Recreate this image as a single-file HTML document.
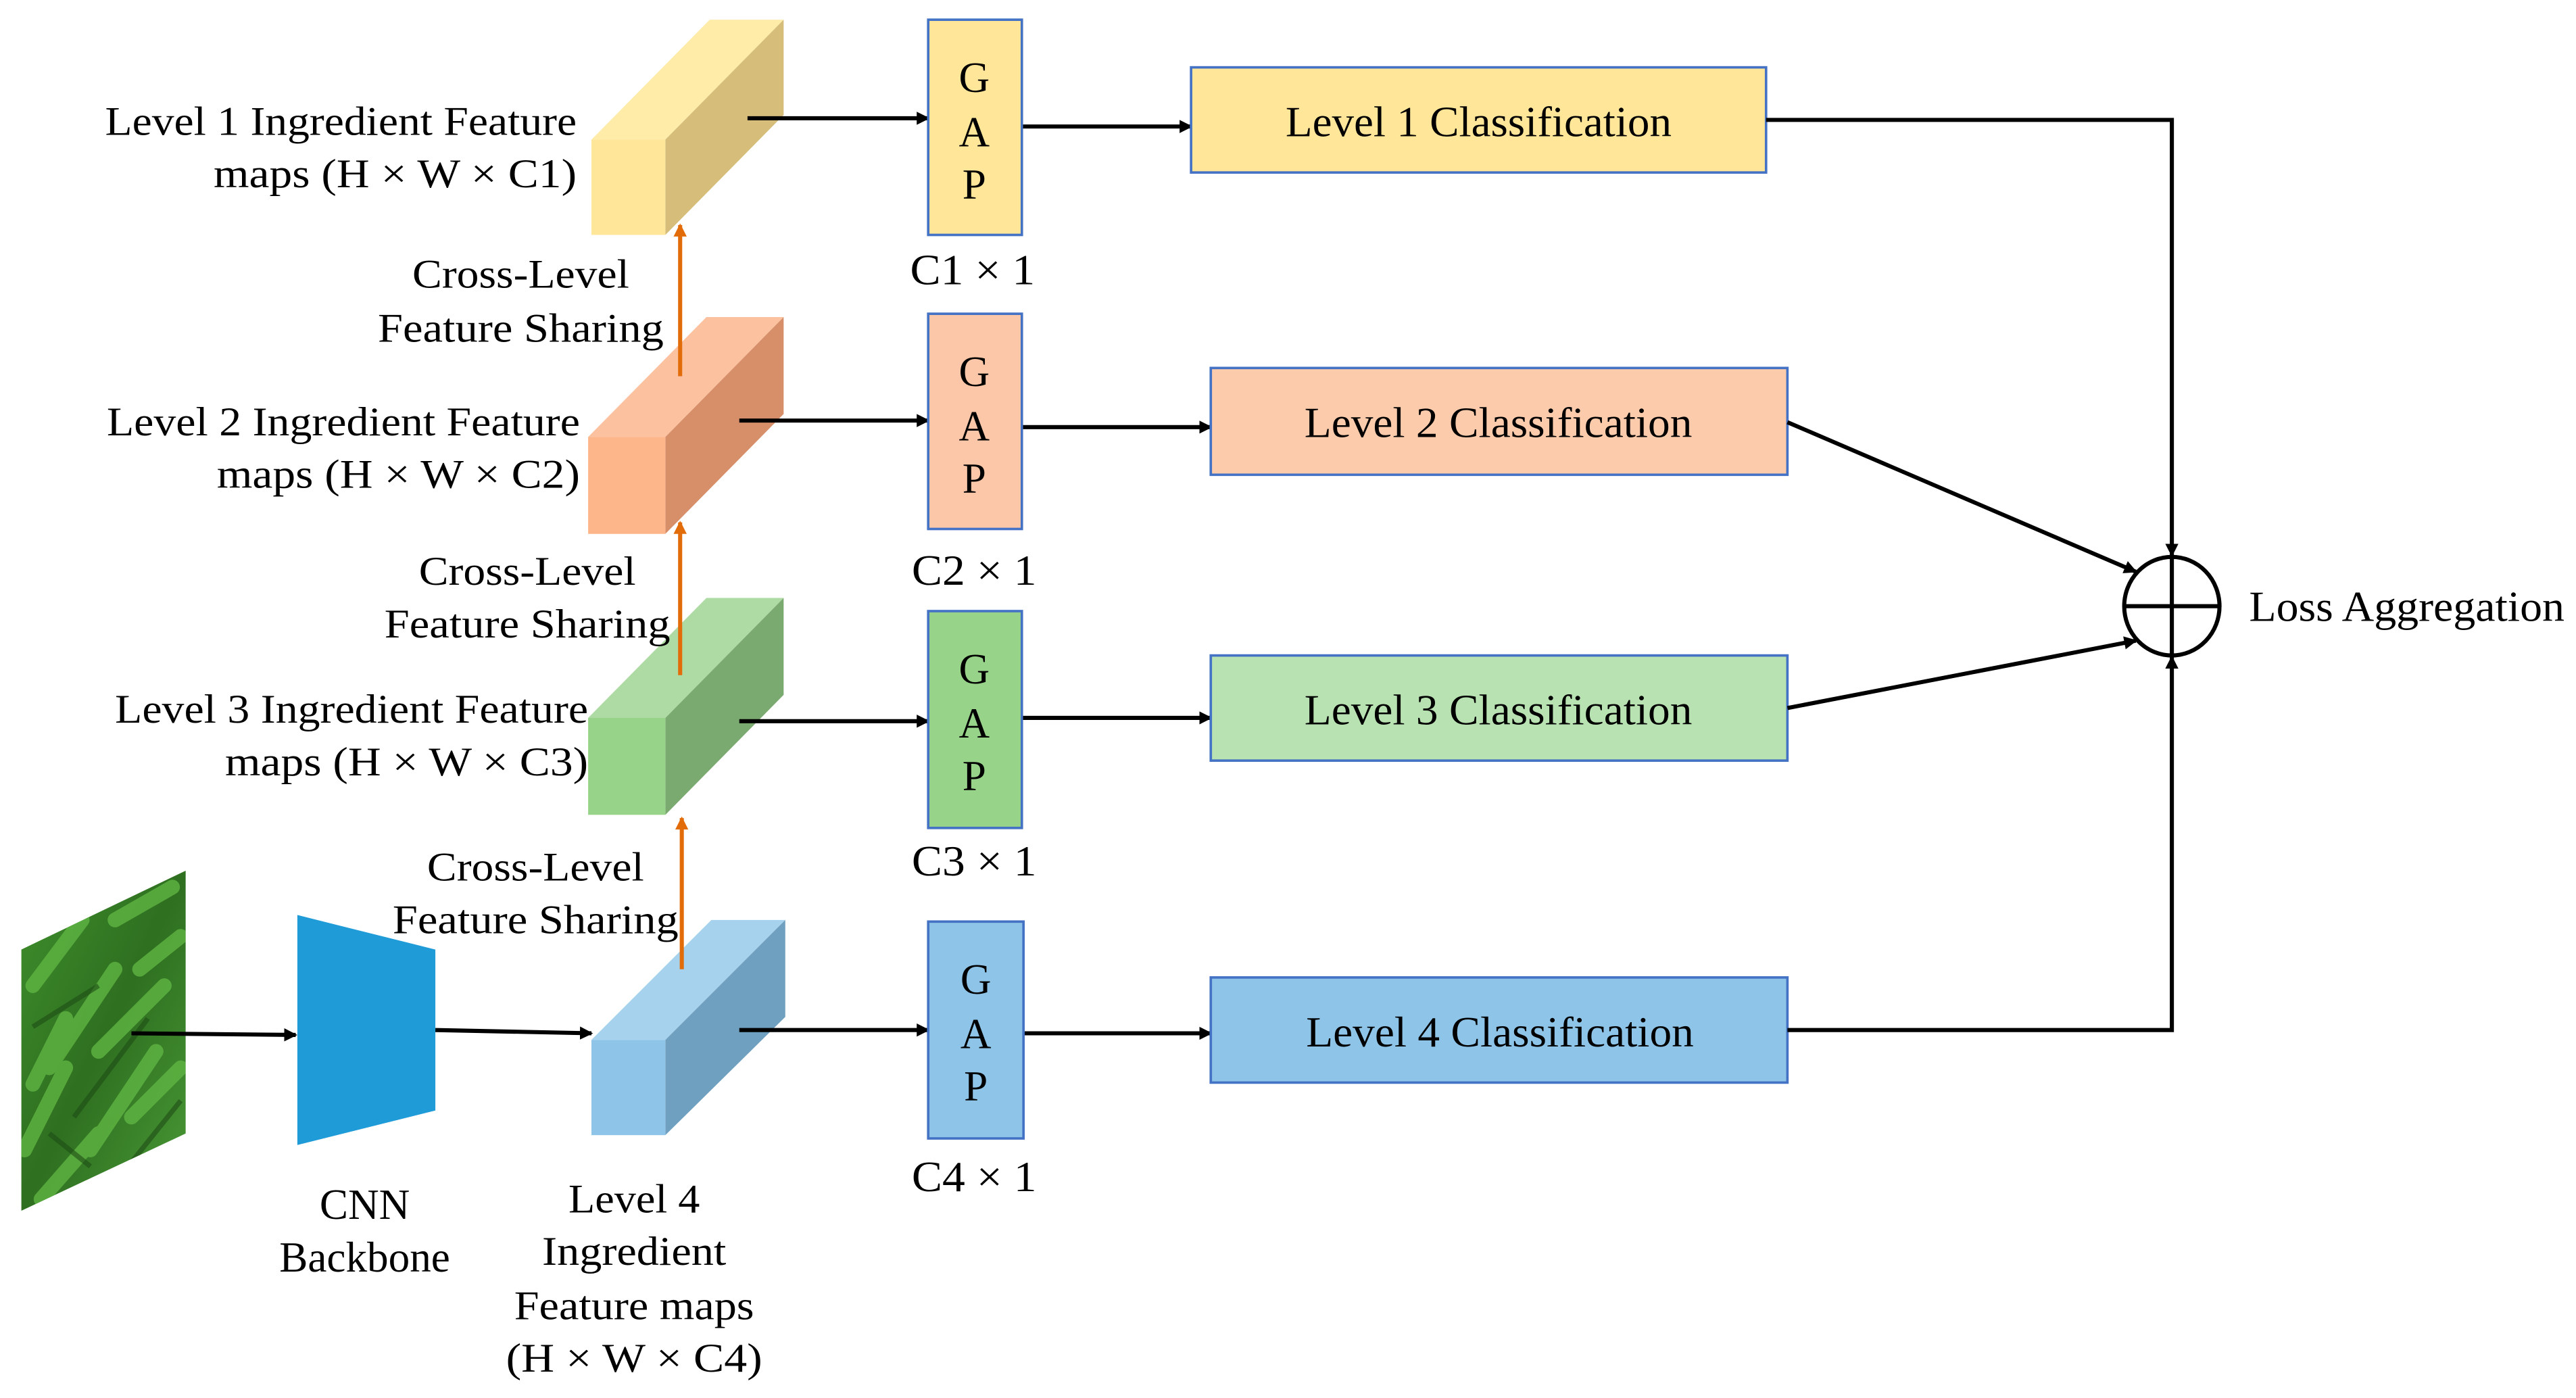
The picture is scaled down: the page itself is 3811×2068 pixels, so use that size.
<!DOCTYPE html>
<html><head><meta charset="utf-8"><style>
html,body{margin:0;padding:0;background:#fff;}
svg{display:block;}
</style></head><body>
<svg width="3811" height="2068" viewBox="0 0 1568 851" preserveAspectRatio="none" xmlns="http://www.w3.org/2000/svg" font-family="'Liberation Serif', 'DejaVu Serif', serif" style="font-family:'Liberation Serif','DejaVu Serif',serif">
<defs>
<marker id="a" markerWidth="8" markerHeight="8" refX="7" refY="4" orient="auto" markerUnits="userSpaceOnUse"><path d="M0,0 L8,4 L0,8 z" fill="#000"/></marker>
<marker id="o" markerWidth="8" markerHeight="8" refX="7" refY="4" orient="auto" markerUnits="userSpaceOnUse"><path d="M0,0 L8,4 L0,8 z" fill="#E36C0A"/></marker>
<linearGradient id="g" x1="0" y1="0" x2="1" y2="1"><stop offset="0" stop-color="#3f8f2c"/><stop offset="0.5" stop-color="#2e6f20"/><stop offset="1" stop-color="#4a9a36"/></linearGradient>
<clipPath id="cp"><polygon points="13,578 113,530 113,690 13,737"/></clipPath>
</defs>
<rect width="1568" height="851" fill="#fff"/>

<polygon points="13,578 113,530 113,690 13,737" fill="url(#g)"/>
<g clip-path="url(#cp)" stroke="#5fb543" stroke-width="9" stroke-linecap="round" fill="none" opacity="0.8">
<path d="M20,600 L50,560"/><path d="M30,650 L70,590"/><path d="M15,700 L40,650"/><path d="M55,700 L95,640"/><path d="M70,560 L105,540"/><path d="M60,640 L100,600"/><path d="M25,730 L60,690"/><path d="M80,680 L110,650"/><path d="M40,620 L20,660"/><path d="M85,590 L110,570"/>
</g>
<g clip-path="url(#cp)" stroke="#1e4d16" stroke-width="3" fill="none" opacity="0.6">
<path d="M20,625 L60,600"/><path d="M45,680 L90,620"/><path d="M70,720 L110,670"/><path d="M30,690 L55,710"/>
</g>

<polygon points="181,557 265,578 265,676 181,697" fill="#1F9BD7"/>
<text x="222" y="742" font-size="26" text-anchor="middle">CNN</text>
<text x="222" y="774" font-size="26" text-anchor="middle">Backbone</text>

<line x1="80" y1="629" x2="180" y2="630" stroke="#000" stroke-width="2.5" marker-end="url(#a)"/>
<line x1="265" y1="627" x2="360" y2="629" stroke="#000" stroke-width="2.5" marker-end="url(#a)"/>

<g>
<polygon points="360,85 405,85 477,12 432,12" fill="#FEECA8"/>
<polygon points="405,85 477,12 477,70 405,143" fill="#D6BD7A"/>
<rect x="360" y="85" width="45" height="58" fill="#FFE699"/>
</g>
<g>
<polygon points="358,266 405,266 477,193 430,193" fill="#FCC19F"/>
<polygon points="405,266 477,193 477,252 405,325" fill="#D78F6A"/>
<rect x="358" y="266" width="47" height="59" fill="#FDB68A"/>
</g>
<g>
<polygon points="358,437 405,437 477,364 430,364" fill="#AEDBA4"/>
<polygon points="405,437 477,364 477,423 405,496" fill="#7BAA70"/>
<rect x="358" y="437" width="47" height="59" fill="#98D38A"/>
</g>
<g>
<polygon points="360,633 405,633 478,560 433,560" fill="#A7D2EE"/>
<polygon points="405,633 478,560 478,619 405,691" fill="#70A0BF"/>
<rect x="360" y="633" width="45" height="58" fill="#8EC4E8"/>
</g>

<line x1="414" y1="229" x2="414" y2="137" stroke="#E36C0A" stroke-width="2.5" marker-end="url(#o)"/>
<line x1="414" y1="411" x2="414" y2="318" stroke="#E36C0A" stroke-width="2.5" marker-end="url(#o)"/>
<line x1="415" y1="590" x2="415" y2="498" stroke="#E36C0A" stroke-width="2.5" marker-end="url(#o)"/>

<g font-size="25" text-anchor="end">
<text x="351" y="82" textLength="287" lengthAdjust="spacingAndGlyphs">Level 1 Ingredient Feature</text>
<text x="351" y="114" textLength="221" lengthAdjust="spacingAndGlyphs">maps (H × W × C1)</text>
<text x="353" y="265" textLength="288" lengthAdjust="spacingAndGlyphs">Level 2 Ingredient Feature</text>
<text x="353" y="297" textLength="221" lengthAdjust="spacingAndGlyphs">maps (H × W × C2)</text>
<text x="358" y="440" textLength="288" lengthAdjust="spacingAndGlyphs">Level 3 Ingredient Feature</text>
<text x="358" y="472" textLength="221" lengthAdjust="spacingAndGlyphs">maps (H × W × C3)</text>
</g>
<g font-size="25" text-anchor="middle">
<text x="317" y="175" textLength="132" lengthAdjust="spacingAndGlyphs">Cross-Level</text>
<text x="317" y="208" textLength="174" lengthAdjust="spacingAndGlyphs">Feature Sharing</text>
<text x="321" y="356" textLength="132" lengthAdjust="spacingAndGlyphs">Cross-Level</text>
<text x="321" y="388" textLength="174" lengthAdjust="spacingAndGlyphs">Feature Sharing</text>
<text x="326" y="536" textLength="132" lengthAdjust="spacingAndGlyphs">Cross-Level</text>
<text x="326" y="568" textLength="174" lengthAdjust="spacingAndGlyphs">Feature Sharing</text>
<text x="386" y="738" textLength="80" lengthAdjust="spacingAndGlyphs">Level 4</text>
<text x="386" y="770" textLength="112" lengthAdjust="spacingAndGlyphs">Ingredient</text>
<text x="386" y="803" textLength="146" lengthAdjust="spacingAndGlyphs">Feature maps</text>
<text x="386" y="835" textLength="156" lengthAdjust="spacingAndGlyphs">(H × W × C4)</text>
</g>

<g stroke="#000" stroke-width="2.5">
<line x1="455" y1="72" x2="565" y2="72" marker-end="url(#a)"/>
<line x1="450" y1="256" x2="565" y2="256" marker-end="url(#a)"/>
<line x1="450" y1="439" x2="565" y2="439" marker-end="url(#a)"/>
<line x1="450" y1="627" x2="565" y2="627" marker-end="url(#a)"/>
<line x1="622" y1="77" x2="725" y2="77" marker-end="url(#a)"/>
<line x1="622" y1="260" x2="737" y2="260" marker-end="url(#a)"/>
<line x1="622" y1="437" x2="737" y2="437" marker-end="url(#a)"/>
<line x1="622" y1="629" x2="737" y2="629" marker-end="url(#a)"/>
</g>

<g stroke="#4472C4" stroke-width="1.5">
<rect x="565" y="12" width="57" height="131" fill="#FFE699"/>
<rect x="565" y="191" width="57" height="131" fill="#FBC7A8"/>
<rect x="565" y="372" width="57" height="132" fill="#98D38A"/>
<rect x="565" y="561" width="58" height="132" fill="#8EC4E8"/>
</g>
<g font-size="26" text-anchor="middle">
<text x="593" y="56">G</text><text x="593" y="89">A</text><text x="593" y="121">P</text>
<text x="593" y="235">G</text><text x="593" y="268">A</text><text x="593" y="300">P</text>
<text x="593" y="416">G</text><text x="593" y="449">A</text><text x="593" y="481">P</text>
<text x="594" y="605">G</text><text x="594" y="638">A</text><text x="594" y="670">P</text>
<text x="592" y="173" textLength="76" lengthAdjust="spacingAndGlyphs">C1 × 1</text>
<text x="593" y="356" textLength="76" lengthAdjust="spacingAndGlyphs">C2 × 1</text>
<text x="593" y="533" textLength="76" lengthAdjust="spacingAndGlyphs">C3 × 1</text>
<text x="593" y="725" textLength="76" lengthAdjust="spacingAndGlyphs">C4 × 1</text>
</g>

<g stroke="#4472C4" stroke-width="1.5">
<rect x="725" y="41" width="350" height="64" fill="#FFE699"/>
<rect x="737" y="224" width="351" height="65" fill="#FBCBAB"/>
<rect x="737" y="399" width="351" height="64" fill="#B9E2B2"/>
<rect x="737" y="595" width="351" height="64" fill="#8EC4E8"/>
</g>
<g font-size="26" text-anchor="middle">
<text x="900" y="83" textLength="235" lengthAdjust="spacingAndGlyphs">Level 1 Classification</text>
<text x="912" y="266" textLength="236" lengthAdjust="spacingAndGlyphs">Level 2 Classification</text>
<text x="912" y="441" textLength="236" lengthAdjust="spacingAndGlyphs">Level 3 Classification</text>
<text x="913" y="637" textLength="236" lengthAdjust="spacingAndGlyphs">Level 4 Classification</text>
</g>

<g stroke="#000" stroke-width="2.5" fill="none">
<polyline points="1075,73 1322,73 1322,338" marker-end="url(#a)"/>
<line x1="1088" y1="257" x2="1300" y2="348" marker-end="url(#a)"/>
<line x1="1088" y1="431" x2="1300" y2="390" marker-end="url(#a)"/>
<polyline points="1088,627 1322,627 1322,400" marker-end="url(#a)"/>
<ellipse cx="1322" cy="369" rx="29" ry="30"/>
<line x1="1293" y1="369" x2="1351" y2="369"/>
<line x1="1322" y1="339" x2="1322" y2="399"/>
</g>
<text x="1369" y="378" font-size="26" textLength="192" lengthAdjust="spacingAndGlyphs">Loss Aggregation</text>
</svg>
</body></html>
